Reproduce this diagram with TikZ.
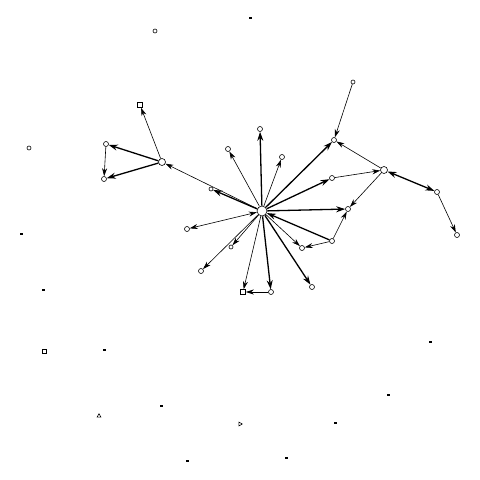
\documentclass[tikz,border=0pt]{standalone}
\usetikzlibrary{arrows.meta,shapes.geometric}
\begin{document}
\begin{tikzpicture}[x=1pt,y=-1pt,
  nd/.style={draw,circle,fill=white,inner sep=0pt,minimum size=5pt,line width=0.6pt},
  big/.style={nd,minimum size=10pt},
  mid/.style={nd,minimum size=7pt},
  sq/.style={draw,rectangle,fill=white,inner sep=0pt,minimum size=5pt,line width=0.6pt},
  tiny/.style={draw,circle,fill=white,inner sep=0pt,minimum size=4pt,line width=0.6pt},
  dot/.style={fill=black,rectangle,inner sep=0pt,minimum width=3pt,minimum height=2pt},
  tri/.style={draw,regular polygon,regular polygon sides=3,inner sep=0pt,minimum size=4.5pt,line width=0.6pt},
  e/.style={-{Stealth[length=8pt,width=5pt]},line width=0.6pt},
  eb/.style={-{Stealth[length=9pt,width=6pt]},line width=1.3pt},
  ed/.style={{Stealth[length=8pt,width=5pt]}-{Stealth[length=8pt,width=5pt]},line width=0.6pt},
  edb/.style={{Stealth[length=9pt,width=6pt]}-{Stealth[length=9pt,width=6pt]},line width=1.3pt}]
\useasboundingbox (0,0) rectangle (480,480);
\fill[white] (0,0) rectangle (480,480);
% connected nodes
\node[big] (H) at (262,211) {};
\node[sq] (A) at (140,105) {};
\node[mid] (B) at (162,162) {};
\node[nd] (C) at (106,144) {};
\node[nd] (D) at (104,179) {};
\node[tiny] (E) at (211,189) {};
\node[nd] (F) at (228,149) {};
\node[nd] (G) at (260,129) {};
\node[nd] (I) at (282,157) {};
\node[nd] (J) at (334,140) {};
\node[tiny] (K) at (353,82) {};
\node[mid] (L) at (384,170) {};
\node[nd] (M) at (332,178) {};
\node[nd] (N) at (437,192) {};
\node[nd] (O) at (457,235) {};
\node[nd] (P) at (348,209) {};
\node[nd] (Q) at (332,241) {};
\node[nd] (R) at (302,248) {};
\node[nd] (S) at (312,287) {};
\node[nd] (T) at (271,292) {};
\node[sq] (U) at (243,292) {};
\node[nd] (V) at (201,271) {};
\node[tiny] (W) at (231,247) {};
\node[nd] (X) at (187,229) {};
% edges
\draw[e] (H) -- (B);
\draw[eb] (H) -- (E);
\draw[e] (B) -- (A);
\draw[eb] (B) -- (C);
\draw[eb] (B) -- (D);
\draw[e] (C) -- (D);
\draw[e] (H) -- (F);
\draw[eb] (H) -- (G);
\draw[e] (H) -- (I);
\draw[eb] (H) -- (J);
\draw[e] (K) -- (J);
\draw[e] (L) -- (J);
\draw[eb] (H) -- (M);
\draw[e] (M) -- (L);
\draw[edb] (L) -- (N);
\draw[e] (N) -- (O);
\draw[eb] (H) -- (P);
\draw[e] (L) -- (P);
\draw[e] (Q) -- (P);
\draw[eb] (Q) -- (H);
\draw[e] (Q) -- (R);
\draw[e] (H) -- (R);
\draw[eb] (H) -- (S);
\draw[eb] (H) -- (T);
\draw[e] (H) -- (U);
\draw[e] (T) -- (U);
\draw[e] (H) -- (V);
\draw[e] (H) -- (W);
\draw[ed] (H) -- (X);
% isolated nodes
\node[dot] (i1) at (250,18) {};
\node[tiny] (i2) at (155,31) {};
\node[tiny] (i3) at (29,148) {};
\node[dot] (i4) at (21,234) {};
\node[dot] (i5) at (43,290) {};
\node[sq,minimum size=4pt] (i6) at (44,351) {};
\node[dot] (i7) at (104,350) {};
\node[tri] (i8) at (99,416) {};
\node[dot] (i9) at (161,406) {};
\node[tri,shape border rotate=-90] (i10) at (240,424) {};
\node[dot] (i11) at (187,461) {};
\node[dot] (i12) at (286,458) {};
\node[dot] (i13) at (335,423) {};
\node[dot] (i14) at (388,395) {};
\node[dot] (i15) at (430,342) {};
\end{tikzpicture}
\end{document}
